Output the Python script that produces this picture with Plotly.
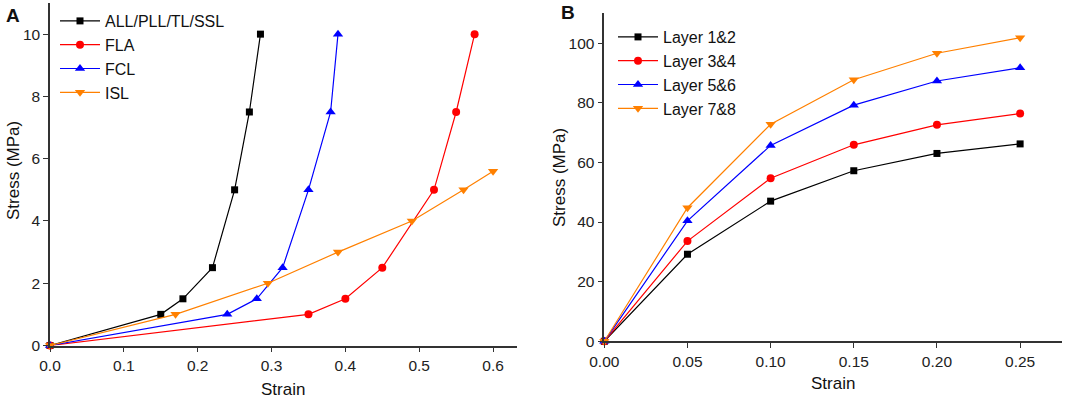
import plotly.graph_objects as go

# Panel A data
a_black_x = [0, 0.15, 0.18, 0.22, 0.25, 0.27, 0.285]
a_black_y = [0, 1, 1.5, 2.5, 5, 7.5, 10]
a_red_x = [0, 0.35, 0.40, 0.45, 0.52, 0.55, 0.575]
a_red_y = [0, 1, 1.5, 2.5, 5, 7.5, 10]
a_blue_x = [0, 0.24, 0.28, 0.315, 0.35, 0.38, 0.39]
a_blue_y = [0, 1, 1.5, 2.5, 5, 7.5, 10]
a_orange_x = [0, 0.17, 0.295, 0.39, 0.49, 0.56, 0.60]
a_orange_y = [0, 1, 2, 3, 4, 5, 5.6]
a_names = ["ALL/PLL/TL/SSL", "FLA", "FCL", "ISL"]

# Panel B data
b_x = [0, 0.05, 0.10, 0.15, 0.20, 0.25]
b_l12 = [0, 29.2, 47.0, 57.2, 63.0, 66.2]
b_l34 = [0, 33.6, 54.7, 65.9, 72.6, 76.4]
b_l56 = [0, 40.4, 65.7, 79.2, 87.3, 91.7]
b_l78 = [0, 44.8, 72.8, 87.7, 96.6, 101.8]
b_names = ["Layer 1&2", "Layer 3&4", "Layer 5&6", "Layer 7&8"]

colors = ["#000000", "#ff0000", "#0000ff", "#ff8000"]
symbols = ["square", "circle", "triangle-up", "triangle-down"]
msizes = [7, 8, 9, 9]

FONT = "Arial, Liberation Sans, sans-serif"
fig = go.Figure()

a_series = [(a_black_x, a_black_y), (a_red_x, a_red_y), (a_blue_x, a_blue_y), (a_orange_x, a_orange_y)]
for i, (xs, ys) in enumerate(a_series):
    fig.add_trace(go.Scatter(
        x=xs, y=ys, name=a_names[i], mode="lines+markers",
        line=dict(color=colors[i], width=1.2),
        marker=dict(symbol=symbols[i], size=msizes[i], color=colors[i]),
        xaxis="x", yaxis="y", legend="legend", cliponaxis=False))

for i, ys in enumerate([b_l12, b_l34, b_l56, b_l78]):
    fig.add_trace(go.Scatter(
        x=b_x, y=ys, name=b_names[i], mode="lines+markers",
        line=dict(color=colors[i], width=1.2),
        marker=dict(symbol=symbols[i], size=msizes[i], color=colors[i]),
        xaxis="x2", yaxis="y2", legend="legend2", cliponaxis=False))

axis_common = dict(showline=True, linecolor="#333333", linewidth=1.5, ticks="outside",
                   ticklen=5, tickwidth=1.2, tickcolor="#333333", showgrid=False,
                   zeroline=False, mirror=False, automargin=False,
                   tickfont=dict(family=FONT, size=15.5, color="#222222"))

W, H = 1065, 398
fig.update_layout(
    template="none",
    width=W, height=H, margin=dict(l=0, r=0, t=0, b=0, pad=0),
    paper_bgcolor="white", plot_bgcolor="white",
    font=dict(family=FONT, color="#111111"),
    xaxis=dict(domain=[50 / W, 516.7 / W], range=[0, 0.632], tickvals=[0, 0.1, 0.2, 0.3, 0.4, 0.5, 0.6],
               ticktext=["0.0", "0.1", "0.2", "0.3", "0.4", "0.5", "0.6"], anchor="y", **axis_common),
    yaxis=dict(domain=[1 - 345.5 / H, 1 - 3 / H], range=[0, 11], tickvals=[0, 2, 4, 6, 8, 10],
               anchor="x", **axis_common),
    xaxis2=dict(domain=[604.3 / W, 1061.7 / W], range=[0, 0.275], tickvals=[0, 0.05, 0.1, 0.15, 0.2, 0.25],
                ticktext=["0.00", "0.05", "0.10", "0.15", "0.20", "0.25"], anchor="y2", **axis_common),
    yaxis2=dict(domain=[1 - 341.3 / H, 1 - 13.3 / H], range=[0, 110], tickvals=[0, 20, 40, 60, 80, 100],
                anchor="x2", **axis_common),
    legend=dict(x=55 / W, y=1 - 4 / H, xanchor="left", yanchor="top", bgcolor="rgba(0,0,0,0)",
                font=dict(family=FONT, size=16, color="#111111"), tracegroupgap=0, itemwidth=40),
    legend2=dict(x=613 / W, y=1 - 20 / H, xanchor="left", yanchor="top", bgcolor="rgba(0,0,0,0)",
                 font=dict(family=FONT, size=16, color="#111111"), tracegroupgap=0, itemwidth=40),
    showlegend=True,
)

ann = [
    dict(text="<b>A</b>", x=13 / W, y=1 - 16 / H, size=19),
    dict(text="<b>B</b>", x=568 / W, y=1 - 13 / H, size=19),
    dict(text="Strain", x=283 / W, y=1 - 389 / H, size=17),
    dict(text="Strain", x=833 / W, y=1 - 383 / H, size=17),
]
for a in ann:
    fig.add_annotation(text=a["text"], x=a["x"], y=a["y"], xref="paper", yref="paper",
                       showarrow=False, xanchor="center", yanchor="middle",
                       font=dict(family=FONT, size=a["size"], color="#111111"))
for (xc, yc) in [(14 / W, 1 - 171 / H), (559 / W, 1 - 178 / H)]:
    fig.add_annotation(text="Stress (MPa)", x=xc, y=yc, xref="paper", yref="paper",
                       showarrow=False, textangle=-90, xanchor="center", yanchor="middle",
                       font=dict(family=FONT, size=17, color="#111111"))

fig.write_html("out.html", config={"displayModeBar": False},
               post_script="document.body.style.margin='0';document.body.style.overflow='hidden';")
